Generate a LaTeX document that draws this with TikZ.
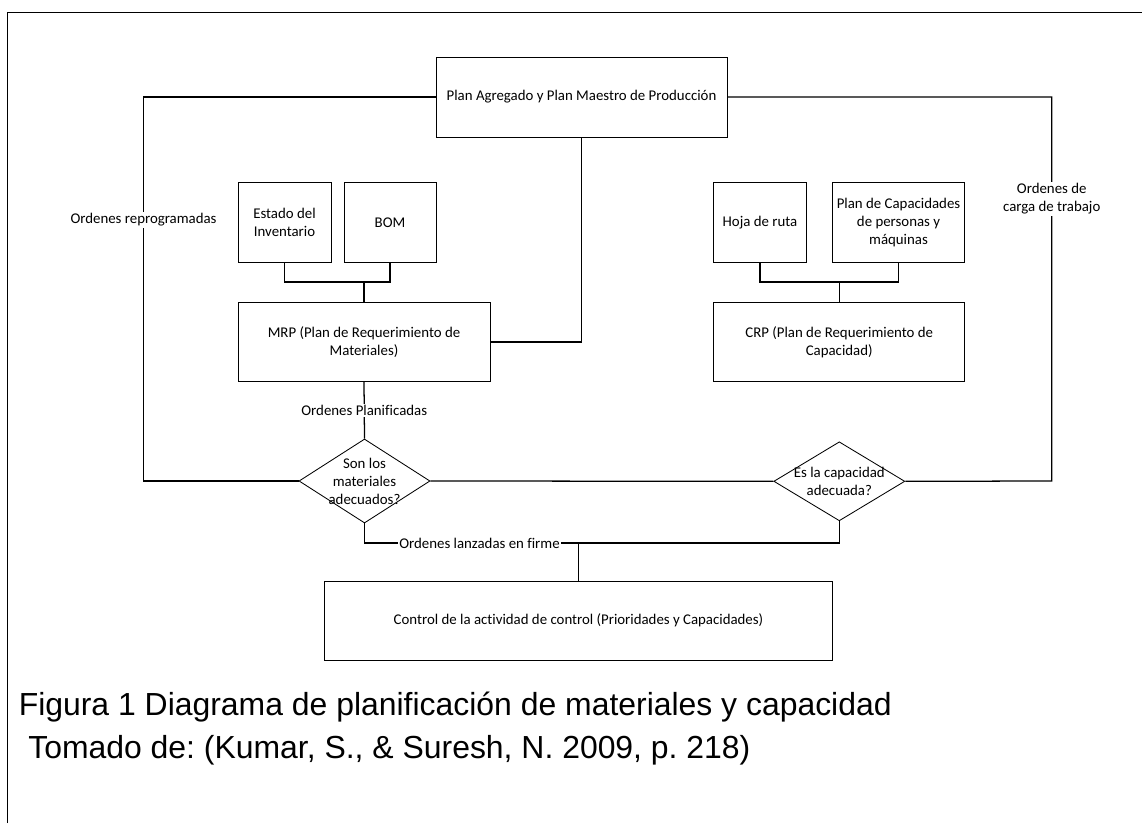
\documentclass[tikz,border=0pt]{standalone}
\usepackage{fontspec}
\setmainfont{Carlito}[Ligatures=NoCommon]
\newfontfamily\capfont{Liberation Sans}
\usetikzlibrary{shapes.geometric}
\frenchspacing

\begin{document}
\begin{tikzpicture}[x=0.025cm,y=-0.025cm,
  every node/.style={font=\fontsize{10.56}{12.8}\selectfont},
  box/.style={draw,line width=0.6pt,align=center,inner sep=0pt,minimum height=1.99cm},
  dec/.style={draw,diamond,line width=0.6pt,inner sep=0pt,minimum width=3.275cm},
  lbl/.style={fill=white,align=center,inner sep=1pt},
  conn/.style={line width=0.9pt},
  capt/.style={anchor=base west,inner sep=0pt,font=\capfont\fontsize{22.7}{27}\selectfont}]
\useasboundingbox (0,0) rectangle (1142,823);
\draw[line width=0.6pt] (7.5,823) -- (7.5,12) -- (1142,12);
\node[box,minimum width=7.275cm,minimum height=2cm] (plan) at (581.5,97) {Plan Agregado y Plan Maestro de Producción};
\node[box,minimum width=2.325cm] (estado) at (284.5,222.5) {Estado del\\Inventario};
\node[box,minimum width=2.3cm] (bom) at (390,222.5) {BOM};
\node[box,minimum width=6.3cm,minimum height=1.975cm] (mrp) at (364,342) {MRP (Plan de Requerimiento de\\Materiales)};
\node[box,minimum width=2.315cm] (hoja) at (760,222.5) {Hoja de ruta};
\node[box,minimum width=3.31cm] (plancap) at (898.5,222.5) {Plan de Capacidades\\de personas y\\máquinas};
\node[box,minimum width=6.275cm,minimum height=1.975cm] (crp) at (839.2,342) {CRP (Plan de Requerimiento de\\Capacidad)};
\node[dec,minimum height=2.1cm,label={[align=center]center:Son los\\materiales\\adecuados?}] (dia1) at (364.5,481) {};
\node[dec,minimum height=1.975cm,label={[align=center]center:Es la capacidad\\adecuada?}] (dia2) at (839.3,481.3) {};
\node[box,minimum width=12.71cm,minimum height=1.975cm] (control) at (578.5,620.5) {Control de la actividad de control (Prioridades y Capacidades)};
\coordinate (lft) at (143.5,481);
\coordinate (rgt) at (1051.7,481);
\coordinate (jm) at (364,282);
\coordinate (jc) at (839.2,282);
\coordinate (jo) at (578.5,543);
\draw[conn] (plan.west) -| (lft) -- (dia1.west);
\draw[conn] (plan.east) -| (rgt) -- (dia2.east);
\draw[conn] (plan.south) |- (mrp.east);
\draw[conn] (estado.south) |- (jm) -| (bom.south);
\draw[conn] (jm) -- (mrp.north);
\draw[conn] (hoja.south) |- (jc) -| (plancap.south);
\draw[conn] (jc) -- (crp.north);
\draw[conn] (mrp.south) -- node[lbl] (plani) {Ordenes Planificadas} (dia1.north);
\draw[conn] (dia1.east) -- (dia2.west);
\draw[conn] (dia1.south) |- (jo) -- (control.north);
\draw[conn] (dia2.south) |- (jo);
\node[lbl] (reprog) at (143.5,220) {Ordenes reprogramadas};
\node[lbl] (carga) at (1051.7,199) {Ordenes de\\carga de trabajo};
\node[lbl] (lanz) at (479.5,543) {Ordenes lanzadas en firme};
\node[capt] (fig) at (18.5,715) {Figura 1 Diagrama de planificación de materiales y capacidad};
\node[capt] (src) at (28,758) {Tomado de: (Kumar, S., \& Suresh, N. 2009, p. 218)};
\end{tikzpicture}
\end{document}
